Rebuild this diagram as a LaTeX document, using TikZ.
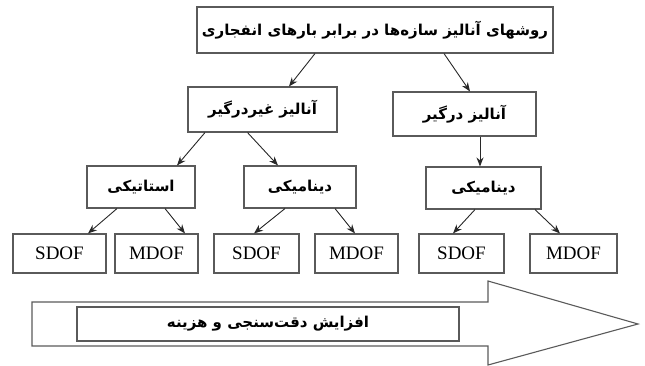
\documentclass[tikz,border=0pt]{standalone}
\usepackage{fontspec}
\setmainfont{Liberation Serif}
\newfontfamily\arabicfont[Script=Arabic]{DejaVu Sans}
\TeXXeTstate=1
\usepackage{tikz}
\usetikzlibrary{arrows.meta,positioning,calc}
\definecolor{boxline}{RGB}{90,90,90}
\definecolor{arrline}{RGB}{40,40,40}

\begin{document}
\begin{tikzpicture}[x=1pt, y=-1pt,
  box/.style={draw=boxline, line width=1.1pt, fill=white, inner sep=0pt, font=\arabicfont\bfseries\fontsize{15}{17}\selectfont},
  dofbox/.style={draw=boxline, line width=1.1pt, fill=white, inner sep=0pt, minimum height=39pt, font=\fontsize{19}{21}\selectfont},
  link/.style={-{Stealth[length=9pt,width=7pt]}, line width=0.9pt, arrline}]
  \useasboundingbox (0,0) rectangle (645,366);

  % method levels
  \node[box, minimum width=356pt, minimum height=46pt] (methods) at (375,30) {\beginR روشهای آنالیز سازه‌ها در برابر بارهای انفجاری\endR};
  \node[box, minimum width=149pt, minimum height=45pt] (uncoupled) at (262.5,109.5) {\beginR آنالیز غیردرگیر\endR};
  \node[box, minimum width=143pt, minimum height=44pt] (coupled) at (464.5,114) {\beginR آنالیز درگیر\endR};

  \node[box, minimum width=108pt, minimum height=42pt] (static) at (141,187) {\beginR استاتیکی\endR};
  \node[box, minimum width=112pt, minimum height=42pt] (dynA) at (300,187) {\beginR دینامیکی\endR};
  \node[box, minimum width=115pt, minimum height=42pt] (dynB) at (483.5,188) {\beginR دینامیکی\endR};

  % single and multi degree of freedom
  \node[dofbox, minimum width=93pt] (sdofA) at (59.5,253.5) {SDOF};
  \node[dofbox, minimum width=83pt] (mdofA) at (156.5,253.5) {MDOF};
  \node[dofbox, minimum width=85pt] (sdofB) at (256.5,253.5) {SDOF};
  \node[dofbox, minimum width=83pt] (mdofB) at (356.5,253.5) {MDOF};
  \node[dofbox, minimum width=85pt] (sdofC) at (461.5,253.5) {SDOF};
  \node[dofbox, minimum width=87pt] (mdofC) at (573.5,253.5) {MDOF};

  \draw[link] ([xshift=-60pt]methods.south) -- ([xshift=26.5pt]uncoupled.north);
  \draw[link] ([xshift=69pt]methods.south) -- ([xshift=5.5pt]coupled.north);
  \draw[link] ([xshift=-57.5pt]uncoupled.south) -- ([xshift=36pt]static.north);
  \draw[link] ([xshift=-15pt]uncoupled.south) -- ([xshift=-22pt]dynA.north);
  \draw[link] ([xshift=15.5pt]coupled.south) -- ([xshift=-3.5pt]dynB.north);
  \draw[link] ([xshift=-24pt]static.south) -- ([xshift=28.5pt]sdofA.north);
  \draw[link] ([xshift=24pt]static.south) -- ([xshift=28.5pt]mdofA.north);
  \draw[link] ([xshift=-15pt]dynA.south) -- ([xshift=-2.5pt]sdofB.north);
  \draw[link] ([xshift=35pt]dynA.south) -- ([xshift=-1.5pt]mdofB.north);
  \draw[link] ([xshift=-8.5pt]dynB.south) -- ([xshift=-8.5pt]sdofC.north);
  \draw[link] ([xshift=51.5pt]dynB.south) -- ([xshift=-13.5pt]mdofC.north);

  % big arrow
  \draw[boxline, line width=1.1pt, line join=miter] (32,302) -- (488,302) -- (488,281) -- (638,324)
    -- (488,365) -- (488,346) -- (32,346) -- cycle;
  \node[box, minimum width=382pt, minimum height=34pt] (cost) at (268,324) {\beginR افزایش دقت‌سنجی و هزینه\endR};
\end{tikzpicture}
\end{document}
